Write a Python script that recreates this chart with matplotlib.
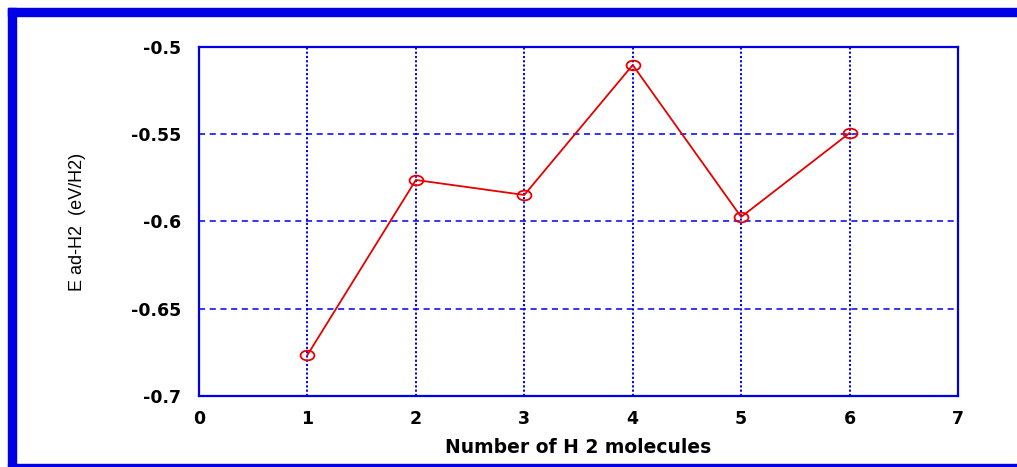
import matplotlib
matplotlib.use('Agg')
import matplotlib.pyplot as plt
from matplotlib.patches import Rectangle
from matplotlib.path import Path

# data
n_h2 = [1, 2, 3, 4, 5, 6]
e_ad = [-0.6765, -0.5762, -0.5848, -0.5103, -0.5974, -0.5493]
x_ticks = [0, 1, 2, 3, 4, 5, 6, 7]
y_ticks = [-0.7, -0.65, -0.6, -0.55, -0.5]
y_tick_labels = ['-0.7', '-0.65', '-0.6', '-0.55', '-0.5']

blue = '#0000e6'
red = '#e60000'
W, H = 1017, 467

fig = plt.figure(figsize=(W / 100, H / 100), dpi=100)
ax = fig.add_axes([199 / W, 1 - 396 / H, (958 - 199) / W, (396 - 47) / H])

# outer blue frame
fig.patches.append(Rectangle((8 / W, 1 - 16 / H), 1 - 8 / W, 8 / H,
                             transform=fig.transFigure, color=blue, zorder=0))
fig.patches.append(Rectangle((8 / W, 1 - 466 / H), 8 / W, 458 / H,
                             transform=fig.transFigure, color=blue, zorder=0))
fig.patches.append(Rectangle((8 / W, 1 - 466 / H), 1 - 8 / W, 2 / H,
                             transform=fig.transFigure, color=blue, zorder=0))

# slightly flattened circle marker
circ = Path.unit_circle()
ellipse = Path(circ.vertices * [1, 0.7], circ.codes)

ax.plot(n_h2, e_ad, color=red, lw=1.3, marker=ellipse, ms=10,
        mfc='none', mec=red, mew=1.3, zorder=3)

ax.set_xlim(0, 7)
ax.set_ylim(-0.7, -0.5)
ax.set_xticks(x_ticks)
ax.set_yticks(y_ticks)
ax.set_yticklabels(y_tick_labels)

for x in x_ticks[1:-1]:
    ax.axvline(x, color=blue, lw=1.4, ls=(0, (1.1, 1.1)), zorder=1)
for y in y_ticks[1:-1]:
    ax.axhline(y, color=blue, lw=1.1, ls=(0, (4, 3)), zorder=1)

for s in ax.spines.values():
    s.set_color(blue)
    s.set_linewidth(1.6)

ax.tick_params(length=0, labelsize=12.5)
ax.tick_params(axis='y', pad=13)
ax.tick_params(axis='x', pad=10)
for lab in ax.get_xticklabels() + ax.get_yticklabels():
    lab.set_fontweight('semibold')
    lab.set_family(['DejaVu Sans'])

ax.set_xlabel('Number of H 2 molecules', fontsize=13.5, fontweight='semibold',
              family=['DejaVu Sans'], labelpad=7)
fig.text(78 / W, 1 - 222 / H, 'E ad-H2  (eV/H2)', rotation=90, ha='center',
         va='center', fontsize=13,
         family=['Liberation Sans Narrow', 'Liberation Sans', 'DejaVu Sans'])

fig.savefig('out.png', dpi=100)
